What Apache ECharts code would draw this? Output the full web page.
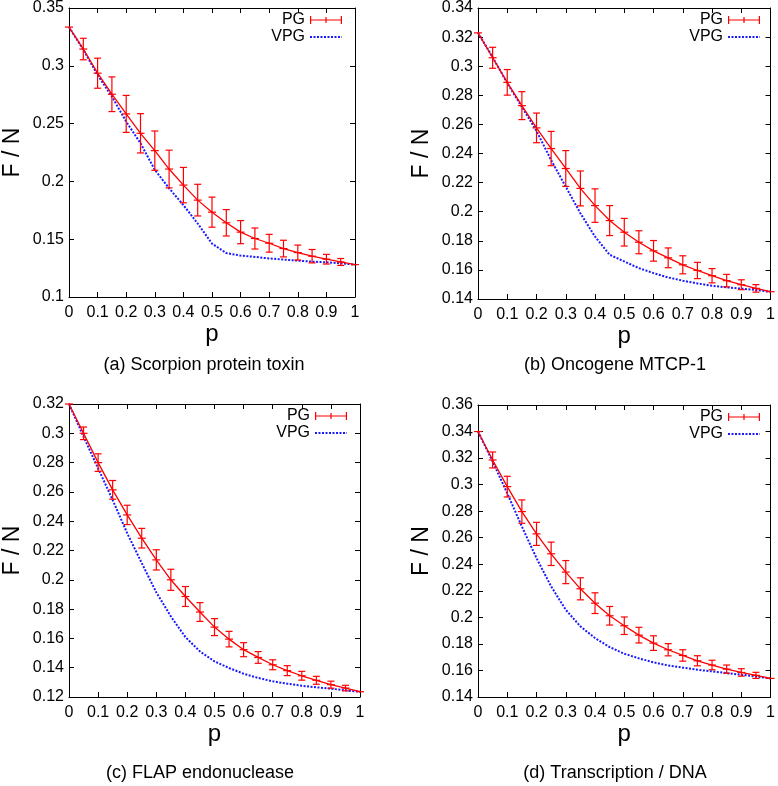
<!DOCTYPE html>
<html>
<head>
<meta charset="utf-8">
<script src="https://cdn.jsdelivr.net/npm/echarts@6/dist/echarts.min.js"></script>
<style>
    html, body { margin: 0; padding: 0; background: #fff; }
    #chart { width: 778px; height: 786px; }
</style>
</head>
<body>
<div id="chart"></div>
<script>
    // probability p on the x axis (same for all four panels)
    const pValues = [0, 0.05, 0.1, 0.15, 0.2, 0.25, 0.3, 0.35, 0.4, 0.45, 0.5, 0.55, 0.6, 0.65, 0.7, 0.75, 0.8, 0.85, 0.9, 0.95, 1];

    const subtitles = ['(a) Scorpion protein toxin', '(b) Oncogene MTCP-1', '(c) FLAP endonuclease', '(d) Transcription / DNA'];

    // (a) Scorpion protein toxin
    const pgA = [0.3335, 0.3145, 0.2936, 0.2754, 0.2584, 0.2416, 0.2266, 0.2107, 0.1968, 0.1838, 0.1734, 0.1642, 0.1561, 0.1506, 0.1465, 0.1419, 0.1384, 0.1353, 0.1327, 0.1303, 0.1280];
    const errA = [0, 0.0093, 0.0130, 0.0150, 0.0160, 0.0170, 0.0170, 0.0163, 0.0153, 0.0137, 0.0130, 0.0114, 0.0100, 0.0091, 0.0077, 0.0072, 0.0065, 0.0058, 0.0042, 0.0030, 0];
    const vpgA = [0.3335, 0.3140, 0.2920, 0.2734, 0.2517, 0.2330, 0.2100, 0.1940, 0.1795, 0.1636, 0.1462, 0.1380, 0.1358, 0.1347, 0.1333, 0.1324, 0.1315, 0.1306, 0.1300, 0.1292, 0.1280];

    // (b) Oncogene MTCP-1
    const pgB = [0.3229, 0.3058, 0.2889, 0.2729, 0.2576, 0.2434, 0.2297, 0.2160, 0.2042, 0.1939, 0.1859, 0.1790, 0.1731, 0.1683, 0.1635, 0.1596, 0.1560, 0.1526, 0.1498, 0.1473, 0.1450];
    const errB = [0, 0.0072, 0.0088, 0.0096, 0.0102, 0.0118, 0.0123, 0.0120, 0.0115, 0.0103, 0.0095, 0.0079, 0.0071, 0.0068, 0.0062, 0.0056, 0.0049, 0.0043, 0.0034, 0.0026, 0];
    const vpgB = [0.3229, 0.3062, 0.2884, 0.2720, 0.2555, 0.2354, 0.2172, 0.1989, 0.1829, 0.1704, 0.1658, 0.1612, 0.1578, 0.1548, 0.1526, 0.1507, 0.1491, 0.1480, 0.1471, 0.1462, 0.1450];

    // (c) FLAP endonuclease
    const pgC = [0.3200, 0.3000, 0.2800, 0.2614, 0.2443, 0.2284, 0.2136, 0.2000, 0.1886, 0.1780, 0.1677, 0.1595, 0.1523, 0.1470, 0.1420, 0.1380, 0.1345, 0.1314, 0.1284, 0.1261, 0.1236];
    const errC = [0, 0.0043, 0.0060, 0.0064, 0.0066, 0.0067, 0.0069, 0.0072, 0.0068, 0.0064, 0.0058, 0.0053, 0.0048, 0.0040, 0.0034, 0.0034, 0.0030, 0.0027, 0.0024, 0.0019, 0];
    const vpgC = [0.3200, 0.2977, 0.2761, 0.2545, 0.2318, 0.2114, 0.1914, 0.1750, 0.1609, 0.1511, 0.1443, 0.1398, 0.1359, 0.1330, 0.1307, 0.1291, 0.1277, 0.1266, 0.1257, 0.1245, 0.1236];

    // (d) Transcription / DNA
    const pgD = [0.3400, 0.3186, 0.2985, 0.2797, 0.2629, 0.2479, 0.2341, 0.2215, 0.2107, 0.2012, 0.1937, 0.1866, 0.1806, 0.1756, 0.1713, 0.1673, 0.1641, 0.1610, 0.1585, 0.1563, 0.1540];
    const errD = [0, 0.0060, 0.0078, 0.0088, 0.0087, 0.0088, 0.0087, 0.0083, 0.0078, 0.0070, 0.0066, 0.0059, 0.0055, 0.0046, 0.0043, 0.0038, 0.0036, 0.0031, 0.0028, 0.0023, 0];
    const vpgD = [0.3400, 0.3174, 0.2935, 0.2684, 0.2446, 0.2233, 0.2057, 0.1932, 0.1844, 0.1776, 0.1726, 0.1691, 0.1661, 0.1638, 0.1621, 0.1605, 0.1593, 0.1580, 0.1568, 0.1555, 0.1540];

    const FONT = '"Liberation Sans", Arial, Helvetica, sans-serif';
    const RED = '#ff0000';
    const BLUE = '#1a1aff';

    // layout of the four panels
    const panels = [
        { pg: pgA, err: errA, vpg: vpgA, yMin: 0.1, yMax: 0.35, yStep: 0.05,
          grid: { left: 66, top: 8, width: 289, height: 289 }, legend: { right: 435, top: 12 }, sub: [204, 365] },
        { pg: pgB, err: errB, vpg: vpgB, yMin: 0.14, yMax: 0.34, yStep: 0.02,
          grid: { left: 478, top: 7, width: 295, height: 292 }, legend: { right: 17, top: 12 }, sub: [615, 365] },
        { pg: pgC, err: errC, vpg: vpgC, yMin: 0.12, yMax: 0.32, yStep: 0.02,
          grid: { left: 67, top: 404, width: 293, height: 293 }, legend: { right: 430, top: 408 }, sub: [200, 773] },
        { pg: pgD, err: errD, vpg: vpgD, yMin: 0.14, yMax: 0.36, yStep: 0.02,
          grid: { left: 478, top: 405, width: 294, height: 292 }, legend: { right: 17, top: 409 }, sub: [615, 773] },
    ];

    // error bar + "+" point, gnuplot style
    function renderErrorBar(params, api) {
        const x = api.value(0), y = api.value(1), e = api.value(2);
        const c = api.coord([x, y]);
        const style = { stroke: RED, lineWidth: 1.2 };
        const arm = 4, cap = 3.5;
        const children = [
            { type: 'line', shape: { x1: c[0] - arm, y1: c[1], x2: c[0] + arm, y2: c[1] }, style },
        ];
        if (e > 0) {
            const hi = api.coord([x, y + e]);
            const lo = api.coord([x, y - e]);
            children.push(
                { type: 'line', shape: { x1: hi[0], y1: hi[1], x2: lo[0], y2: lo[1] }, style },
                { type: 'line', shape: { x1: hi[0] - cap, y1: hi[1], x2: hi[0] + cap, y2: hi[1] }, style },
                { type: 'line', shape: { x1: lo[0] - cap, y1: lo[1], x2: lo[0] + cap, y2: lo[1] }, style }
            );
        }
        return { type: 'group', children };
    }

    const pgIcon = 'path://M0,0h1.2v8h-1.2z M30.8,0h1.2v8h-1.2z M0,3.4h32v1.2h-32z M15.4,1h1.2v6h-1.2z';

    const grids = [], xAxes = [], yAxes = [], series = [], legends = [], graphics = [];
    const black = { color: '#000', width: 1 };

    panels.forEach((pn, i) => {
        grids.push(Object.assign({ containLabel: false }, pn.grid));

        xAxes.push({
            type: 'value', gridIndex: i, min: 0, max: 1, interval: 0.1, position: 'bottom',
            axisLine: { onZero: false, lineStyle: black },
            axisTick: { inside: true, length: 5, lineStyle: black },
            axisLabel: { color: '#000', fontSize: 16, fontFamily: FONT, margin: 8 },
            splitLine: { show: false },
            name: 'p', nameLocation: 'middle', nameGap: 21,
            nameTextStyle: { color: '#000', fontSize: 24, fontFamily: FONT },
        });
        xAxes.push({
            type: 'value', gridIndex: i, min: 0, max: 1, interval: 0.1, position: 'top',
            axisLine: { onZero: false, lineStyle: black },
            axisTick: { inside: true, length: 5, lineStyle: black },
            axisLabel: { show: false },
            splitLine: { show: false },
        });
        yAxes.push({
            type: 'value', gridIndex: i, min: pn.yMin, max: pn.yMax, interval: pn.yStep, position: 'left',
            axisLine: { onZero: false, lineStyle: black },
            axisTick: { inside: true, length: 5, lineStyle: black },
            axisLabel: { color: '#000', fontSize: 16, fontFamily: FONT, margin: 5 },
            splitLine: { show: false },
            name: 'F / N', nameLocation: 'middle', nameRotate: 90, nameGap: 45,
            nameTextStyle: { color: '#000', fontSize: 23, fontFamily: FONT },
        });
        yAxes.push({
            type: 'value', gridIndex: i, min: pn.yMin, max: pn.yMax, interval: pn.yStep, position: 'right',
            axisLine: { onZero: false, lineStyle: black },
            axisTick: { inside: true, length: 5, lineStyle: black },
            axisLabel: { show: false },
            splitLine: { show: false },
        });

        series.push({
            name: 'VPG', type: 'line', xAxisIndex: 2 * i, yAxisIndex: 2 * i,
            data: pValues.map((p, k) => [p, pn.vpg[k]]),
            symbol: 'none', z: 2,
            itemStyle: { color: BLUE },
            lineStyle: { color: BLUE, width: 2, type: [2, 1.5] },
        });
        series.push({
            name: 'PG', type: 'line', xAxisIndex: 2 * i, yAxisIndex: 2 * i,
            data: pValues.map((p, k) => [p, pn.pg[k]]),
            symbol: 'none', z: 3,
            itemStyle: { color: RED },
            lineStyle: { color: RED, width: 1.3 },
        });
        series.push({
            name: 'PG error', type: 'custom', xAxisIndex: 2 * i, yAxisIndex: 2 * i,
            data: pValues.map((p, k) => [p, pn.pg[k], pn.err[k]]),
            renderItem: renderErrorBar, z: 4, clip: false,
        });

        legends.push({
            orient: 'vertical', align: 'right', right: pn.legend.right, top: pn.legend.top, padding: 0,
            itemWidth: 32, itemHeight: 8, itemGap: 1, selectedMode: false,
            textStyle: { color: '#000', fontSize: 16, fontFamily: FONT, lineHeight: 16 },
            data: [{ name: 'PG', icon: pgIcon }, { name: 'VPG', itemStyle: { opacity: 0 } }],
        });

        graphics.push({
            type: 'text', x: pn.sub[0], y: pn.sub[1],
            style: { text: subtitles[i], fill: '#000', fontSize: 18, fontFamily: FONT, textAlign: 'center', textVerticalAlign: 'middle' },
        });
    });

    const chart = echarts.init(document.getElementById('chart'));
    chart.setOption({
        animation: false,
        backgroundColor: '#fff',
        grid: grids,
        xAxis: xAxes,
        yAxis: yAxes,
        legend: legends,
        graphic: graphics,
        series: series,
    });
</script>
</body>
</html>
